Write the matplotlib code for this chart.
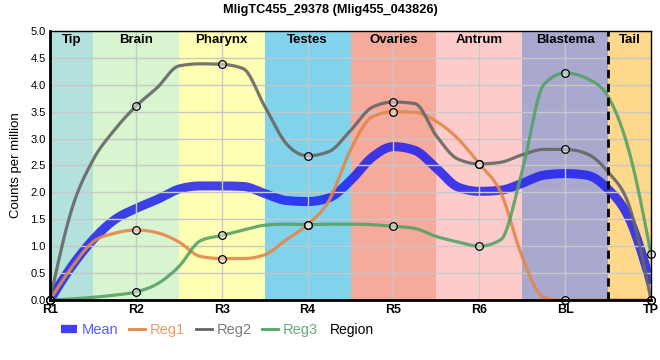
import numpy as np
import matplotlib
matplotlib.use('Agg')
import matplotlib.pyplot as plt
from matplotlib.lines import Line2D

plt.rcParams['font.family'] = ['Liberation Sans', 'DejaVu Sans']

# sample positions (one marker per position)
positions = ['R1', 'R2', 'R3', 'R4', 'R5', 'R6', 'BL', 'TP']

# curve values every quarter position, R1 .. TP (every 4th value is a sample point)
reg1 = [0.00, 0.60, 1.08, 1.24, 1.30, 1.25, 1.08, 0.81, 0.77, 0.77, 0.84, 1.12, 1.40, 1.85,
        2.79, 3.40, 3.50, 3.49, 3.32, 3.00, 2.53, 2.00, 0.80, 0.05, 0.00, 0.00, 0.00, 0.00, 0.00]
reg2 = [0.00, 1.67, 2.60, 3.16, 3.60, 3.95, 4.35, 4.39, 4.38, 4.30, 3.60, 2.91, 2.68, 2.76,
        3.15, 3.58, 3.68, 3.65, 3.05, 2.62, 2.53, 2.56, 2.70, 2.80, 2.80, 2.72, 2.38, 1.73, 0.00]
reg3 = [0.00, 0.02, 0.05, 0.09, 0.15, 0.30, 0.62, 1.10, 1.20, 1.30, 1.39, 1.41, 1.40, 1.41,
        1.41, 1.40, 1.37, 1.33, 1.18, 1.08, 1.00, 1.12, 2.40, 4.00, 4.22, 4.12, 3.78, 2.73, 0.85]
mean = [0.00, 0.62, 1.12, 1.49, 1.70, 1.87, 2.06, 2.12, 2.12, 2.11, 1.98, 1.85, 1.83, 1.90,
        2.22, 2.65, 2.85, 2.78, 2.45, 2.10, 2.02, 2.04, 2.17, 2.32, 2.35, 2.32, 2.06, 1.50, 0.30]

regions = ['Tip', 'Brain', 'Pharynx', 'Testes', 'Ovaries', 'Antrum', 'Blastema', 'Tail']
region_bounds = [0, 0.5, 1.5, 2.5, 3.5, 4.5, 5.5, 6.5, 7]
region_colors = ['#b3e2dd', '#d8f5d0', '#ffffb3', '#80d3ea', '#f5aa9c',
                 '#fecbcb', '#a9a8cf', '#fed98c']


def monotone(x, y, n=20):
    # monotone cubic (Steffen, like d3 curveMonotoneX)
    x = np.asarray(x, float)
    y = np.asarray(y, float)
    h = np.diff(x)
    s = np.diff(y) / h
    t = np.zeros(len(x))
    for i in range(1, len(x) - 1):
        p = (s[i - 1] * h[i] + s[i] * h[i - 1]) / (h[i - 1] + h[i])
        t[i] = (np.sign(s[i - 1]) + np.sign(s[i])) * min(abs(s[i - 1]), abs(s[i]), 0.5 * abs(p))
    t[0] = (3 * s[0] - t[1]) / 2
    t[-1] = (3 * s[-1] - t[-2]) / 2
    xs, ys = [], []
    for i in range(len(x) - 1):
        u = np.linspace(0, 1, n)
        h00 = 2 * u**3 - 3 * u**2 + 1
        h10 = u**3 - 2 * u**2 + u
        h01 = -2 * u**3 + 3 * u**2
        h11 = u**3 - u**2
        xs.append(x[i] + u * h[i])
        ys.append(h00 * y[i] + h10 * h[i] * t[i] + h01 * y[i + 1] + h11 * h[i] * t[i + 1])
    return np.concatenate(xs), np.concatenate(ys)


fig = plt.figure(figsize=(6.6, 3.6), dpi=100)
ax = fig.add_axes([0.0758, 0.1667, 0.9106, 0.7472])

xs = np.arange(len(positions))
xk = np.linspace(0, len(positions) - 1, len(mean))

# region backgrounds
for i, name in enumerate(regions):
    ax.axvspan(region_bounds[i], region_bounds[i + 1], color=region_colors[i], zorder=0, lw=0)
    ax.text((region_bounds[i] + region_bounds[i + 1]) / 2, 4.94, name, ha='center', va='top',
            fontsize=9.5, fontweight='bold', zorder=5)
ax.axvline(6.5, color='black', ls=(0, (3, 2)), lw=2, zorder=4)

ax.grid(True, color='#c8c8c8', lw=1, zorder=1)
ax.set_axisbelow(False)

cx, cy = monotone(xk, mean)
ax.plot(cx, cy, color='#1f1ff0', lw=6.5, alpha=0.85, solid_capstyle='butt', zorder=2)

series = [(reg1, '#e3874a'), (reg2, '#666666'), (reg3, '#55a266')]
for vals, col in series:
    cx, cy = monotone(xk, vals)
    ax.plot(cx, cy, color=col, lw=2.3, alpha=0.9, zorder=3)
    ax.plot(xs, vals[::4], 'o', ms=5.5, mfc=(1, 1, 1, 0.45), mec='black', mew=0.9, zorder=6,
            clip_on=False)

ax.set_xlim(0, 7)
ax.set_ylim(0, 5)
ax.set_xticks(xs)
ax.set_xticklabels(positions, fontsize=9, fontweight='bold')
ax.set_yticks(np.arange(0, 5.01, 0.5))
ax.set_yticklabels(['%.1f' % v for v in np.arange(0, 5.01, 0.5)], fontsize=8)
ax.tick_params(length=0, pad=3)
ax.set_ylabel('Counts per million', fontsize=9.5, labelpad=6)
ax.set_xlabel('Region', fontsize=10)
ax.xaxis.set_label_coords(0.502, -0.112)
ax.xaxis.label.set_va('center')
for side in ['left', 'bottom']:
    ax.spines[side].set_linewidth(2)
for side in ['top', 'right']:
    ax.spines[side].set_linewidth(1)
for sp in ax.spines.values():
    sp.set_zorder(7)

fig.text(0.5, 0.972, 'MligTC455_29378 (Mlig455_043826)', ha='center', va='center',
         fontsize=9.2, fontweight='bold')

handles = [Line2D([0], [0], color='#1f1ff0', lw=6, alpha=0.85, solid_capstyle='butt'),
           Line2D([0], [0], color='#e3874a', lw=2),
           Line2D([0], [0], color='#666666', lw=2),
           Line2D([0], [0], color='#55a266', lw=2)]
leg = fig.legend(handles, ['Mean', 'Reg1', 'Reg2', 'Reg3'], ncol=4, frameon=False,
                 loc='center left', bbox_to_anchor=(0.082, 0.083), fontsize=10.5,
                 handlelength=1.1, handletextpad=0.3, columnspacing=0.75, borderpad=0)
for txt, col in zip(leg.get_texts(), ['#5a5aff', '#eb9a66', '#7a7a7a', '#66ad78']):
    txt.set_color(col)

fig.savefig('out.png', dpi=100)
